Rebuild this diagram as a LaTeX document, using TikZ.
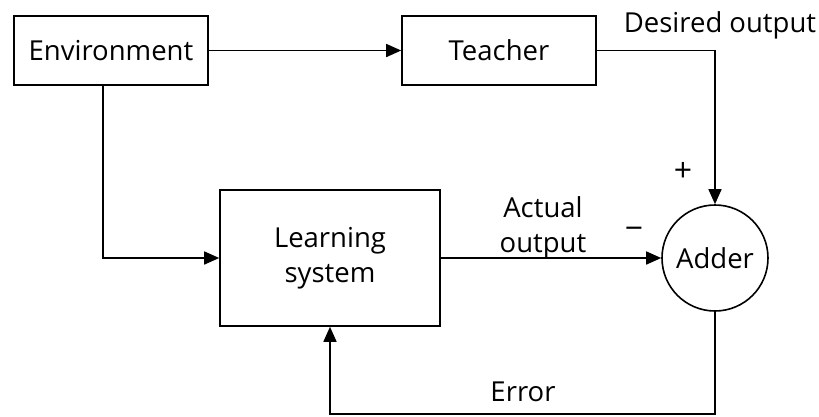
\documentclass[tikz,border=0pt]{standalone}
\usepackage{fontspec}
\setmainfont{Open Sans}
\usepackage{tikz}
\usetikzlibrary{arrows.meta}

\tikzset{
	blk/.style={draw, line width=1.6pt, fill=white, align=center},
	arr/.style={line width=1.6pt, -{Triangle[length=15pt,width=13pt]}},
	lbl/.style={align=center, inner sep=0pt},
	sgn/.style={inner sep=0pt, font=\fontsize{32}{32}\selectfont}
}

\begin{document}
\begin{tikzpicture}[x=1pt, y=-1pt, font=\fontsize{27.5}{35}\selectfont]
		\useasboundingbox (0,0) rectangle (819,416);
		
		% blocks
		\node[blk, minimum width=194, minimum height=69] (env) at (111,50.5) {Environment};
		\node[blk, minimum width=194, minimum height=69] (teacher) at (499,50.5) {Teacher};
		\node[blk, minimum width=220, minimum height=136] (learn) at (330,258) {Learning\\system};
		\node[draw, circle, line width=1.6pt, minimum size=106, inner sep=0pt] (adder) at (715,258) {Adder};
		\coordinate (fb) at (715,414);
		
		% connectors
		\draw[arr] (env) -- (teacher);
		\draw[arr] (teacher) -| (adder);
		\draw[arr] ([xshift=-8pt]env.south) |- (learn);
		\draw[arr] (learn) -- (adder);
		\draw[arr] (adder) -- (fb) -| (learn);
		
		% labels
		\node[lbl] (desired) at (720,25) {Desired output};
		\node[sgn] (plus) at (683,172) {+};
		\node[sgn] (minus) at (634,233) {−};
		\node[lbl] (actual) at (543,228) {Actual\\output};
		\node[lbl] (error) at (523,392) {Error};
	\end{tikzpicture}
\end{document}
